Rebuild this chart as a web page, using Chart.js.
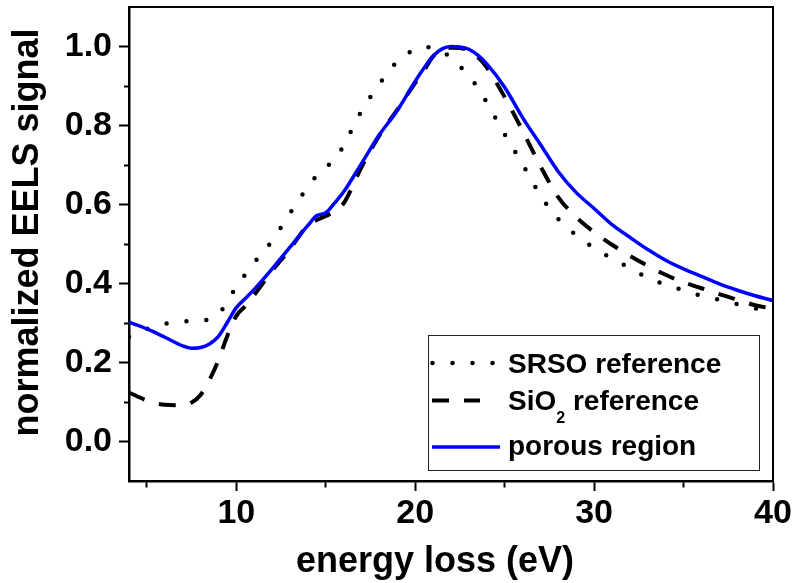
<!DOCTYPE html>
<html>
<head>
<meta charset="utf-8">
<script src="https://cdn.jsdelivr.net/npm/chart.js@4/dist/chart.umd.min.js"></script>
<style>
  html, body { margin: 0; padding: 0; background: #fff; }
  #wrap { width: 796px; height: 583px; }
</style>
</head>
<body>
<div id="wrap"><canvas id="c" width="796" height="583"></canvas></div>
<script>
// Energy-loss axis (eV), shared by all three spectra
const energy = [4, 5, 6, 7, 7.5, 8, 8.5, 9, 9.5, 10,
                10.5, 11, 12, 13, 14, 14.5, 15, 15.5, 16, 17,
                18, 19, 20, 20.5, 21, 21.5, 22, 22.5, 23, 23.5,
                24, 25, 26, 27, 28, 29, 30, 31, 32, 33,
                34, 35, 36, 37, 38, 39, 40];

// Normalized EELS signal of the silicon-rich silicon oxide reference
const srso = [0.265, 0.285, 0.298, 0.304, 0.305, 0.305, 0.310, 0.322, 0.354, 0.392,
              0.423, 0.453, 0.508, 0.578, 0.645, 0.673, 0.695, 0.713, 0.750, 0.837,
              0.905, 0.962, 0.993, 0.999, 0.996, 0.987, 0.972, 0.950, 0.925, 0.896,
              0.858, 0.778, 0.702, 0.623, 0.563, 0.522, 0.490, 0.463, 0.439, 0.414,
              0.397, 0.383, 0.369, 0.359, 0.348, 0.337, 0.328];

// Normalized EELS signal of the SiO2 reference
const sio2 = [0.124, 0.104, 0.093, 0.092, 0.099, 0.118, 0.156, 0.206, 0.268, 0.318,
              0.343, 0.371, 0.432, 0.487, 0.548, 0.561, 0.571, 0.582, 0.603, 0.695,
              0.775, 0.840, 0.908, 0.940, 0.975, 0.990, 0.997, 0.996, 0.990, 0.973,
              0.947, 0.872, 0.787, 0.697, 0.618, 0.568, 0.530, 0.498, 0.470, 0.445,
              0.422, 0.403, 0.388, 0.373, 0.359, 0.345, 0.336];

// Normalized EELS signal measured in the porous region
const porous = [0.302, 0.285, 0.264, 0.242, 0.236, 0.238, 0.247, 0.266, 0.302, 0.339,
                0.362, 0.385, 0.437, 0.492, 0.547, 0.572, 0.579, 0.604, 0.632, 0.704,
                0.777, 0.838, 0.912, 0.946, 0.976, 0.994, 1.000, 0.999, 0.993, 0.978,
                0.956, 0.897, 0.820, 0.752, 0.683, 0.630, 0.590, 0.549, 0.517, 0.486,
                0.459, 0.437, 0.418, 0.399, 0.383, 0.369, 0.357];

// Tick positions (major ones carry labels)
const xTicks = [5, 10, 15, 20, 25, 30, 35, 40];
const xMajor = [10, 20, 30, 40];
const yTicks = [0.0, 0.1, 0.2, 0.3, 0.4, 0.5, 0.6, 0.7, 0.8, 0.9, 1.0];
const yMajor = [0.0, 0.2, 0.4, 0.6, 0.8, 1.0];

const xTitle = 'energy loss (eV)';
const yTitle = 'normalized EELS signal';
// Legend rows: text pieces, the second flag marks a subscript
const legendRows = [
  [['SRSO reference', false]],
  [['SiO', false], ['2', true], [' reference', false]],
  [['porous region', false]]
];

const FONT = '"Liberation Sans", Arial, Helvetica, sans-serif';
const isMajor = (list, v) => list.some(m => Math.abs(m - v) < 1e-6);
const pts = (vals) => energy.map((e, i) => ({ x: e, y: vals[i] }));

// Frame, axis titles and the boxed legend
const decor = {
  id: 'decor',
  afterDraw(chart) {
    const { ctx, chartArea: a } = chart;
    const ds = chart.data.datasets;
    ctx.save();

    // top and right edges of the frame
    ctx.strokeStyle = '#000';
    ctx.lineWidth = 2;
    ctx.beginPath();
    ctx.moveTo(a.left, a.top);
    ctx.lineTo(a.right, a.top);
    ctx.lineTo(a.right, a.bottom);
    ctx.stroke();

    // axis titles
    ctx.fillStyle = '#000';
    ctx.font = 'bold 36px ' + FONT;
    ctx.textAlign = 'center';
    ctx.textBaseline = 'alphabetic';
    ctx.fillText(xTitle, 435, 572);
    ctx.save();
    ctx.translate(38, 232.5);
    ctx.rotate(-Math.PI / 2);
    ctx.fillText(yTitle, 0, 0);
    ctx.restore();

    // legend box
    ctx.lineWidth = 1;
    ctx.strokeStyle = '#222';
    ctx.strokeRect(428.5, 335.5, 331, 135);

    const rows = [
      { line: 363, base: 373, x1: 432.5, x2: 500 },
      { line: 400.5, base: 410, x1: 432, x2: 480 },
      { line: 447, base: 455, x1: 432, x2: 500 }
    ];
    const order = [0, 1, 2];
    rows.forEach((r, k) => {
      const d = ds[order[k]];
      ctx.save();
      ctx.strokeStyle = d.borderColor;
      ctx.lineWidth = d.borderWidth;
      ctx.lineCap = d.borderCapStyle || 'butt';
      ctx.setLineDash(d.borderDash || []);
      ctx.beginPath();
      ctx.moveTo(r.x1, r.line);
      ctx.lineTo(r.x2, r.line);
      ctx.stroke();
      ctx.restore();

      let x = 508;
      ctx.textAlign = 'left';
      legendRows[k].forEach(([txt, sub]) => {
        ctx.font = sub ? 'bold 16px ' + FONT : 'bold 28px ' + FONT;
        ctx.fillText(txt, x, sub ? r.base + 13 : r.base);
        x += ctx.measureText(txt).width;
      });
    });
    ctx.restore();
  }
};

new Chart(document.getElementById('c'), {
  type: 'line',
  data: {
    datasets: [
      {
        label: 'SRSO reference',
        data: pts(srso),
        borderColor: '#000',
        borderWidth: 4.5,
        borderDash: [0, 20],
        borderCapStyle: 'round',
        pointRadius: 0,
        cubicInterpolationMode: 'monotone',
        order: 2
      },
      {
        label: 'SiO2 reference',
        data: pts(sio2),
        borderColor: '#000',
        borderWidth: 4,
        borderDash: [17, 15],
        borderCapStyle: 'butt',
        pointRadius: 0,
        cubicInterpolationMode: 'monotone',
        order: 1
      },
      {
        label: 'porous region',
        data: pts(porous),
        borderColor: '#0000ff',
        borderWidth: 3.5,
        pointRadius: 0,
        cubicInterpolationMode: 'monotone',
        order: 0
      }
    ]
  },
  options: {
    responsive: false,
    devicePixelRatio: 1,
    animation: false,
    events: [],
    layout: { padding: { left: 0, right: 23, top: 7, bottom: 0 } },
    plugins: { legend: { display: false }, tooltip: { enabled: false } },
    scales: {
      x: {
        type: 'linear',
        position: 'bottom',
        min: 4,
        max: 40,
        afterBuildTicks: (s) => { s.ticks = xTicks.map(v => ({ value: v })); },
        afterFit: (s) => { s.height = 102; s.paddingLeft = 0; s.paddingRight = 0; },
        border: { display: true, color: '#000', width: 2.5 },
        grid: {
          drawOnChartArea: false,
          drawTicks: true,
          tickLength: 10,
          tickWidth: 2,
          tickColor: '#000',
          tickBorderDash: (c) => (c.tick && isMajor(xMajor, c.tick.value)) ? [] : [5, 100]
        },
        ticks: {
          autoSkip: false,
          maxRotation: 0,
          padding: 2,
          color: '#000',
          font: { family: FONT, size: 34, weight: 'bold' },
          callback: (v) => isMajor(xMajor, v) ? String(v) : ''
        }
      },
      y: {
        type: 'linear',
        position: 'left',
        min: -0.1,
        max: 1.1,
        afterBuildTicks: (s) => { s.ticks = yTicks.map(v => ({ value: v })); },
        afterFit: (s) => { s.width = 129; s.paddingTop = 0; s.paddingBottom = 0; },
        border: { display: true, color: '#000', width: 2.5 },
        grid: {
          drawOnChartArea: false,
          drawTicks: true,
          tickLength: 10,
          tickWidth: 2,
          tickColor: '#000',
          tickBorderDash: (c) => (c.tick && isMajor(yMajor, c.tick.value)) ? [] : [0, 5, 5, 100]
        },
        ticks: {
          autoSkip: false,
          padding: 7,
          color: '#000',
          font: { family: FONT, size: 34, weight: 'bold' },
          callback: (v) => isMajor(yMajor, v) ? Number(v).toFixed(1) : ''
        }
      }
    }
  },
  plugins: [decor]
});
</script>
</body>
</html>
